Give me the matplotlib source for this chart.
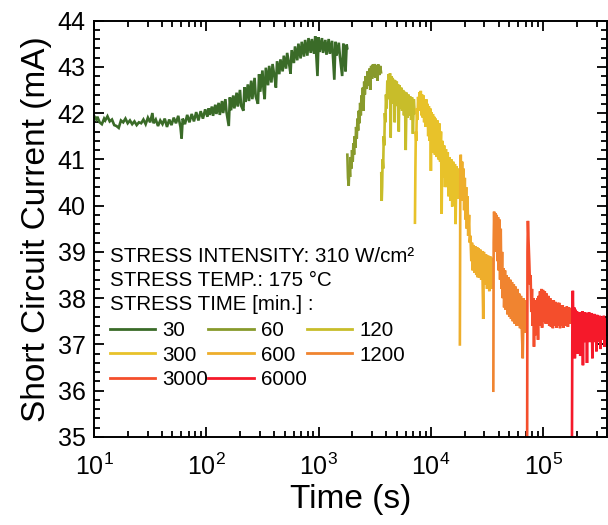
import numpy as np
import matplotlib
matplotlib.use("Agg")
import matplotlib.pyplot as plt
from matplotlib.lines import Line2D
from matplotlib.ticker import MultipleLocator, LogLocator, NullFormatter

plt.rcParams['font.family'] = ['Liberation Sans', 'DejaVu Sans']
plt.rcParams['mathtext.fontset'] = 'custom'
plt.rcParams['mathtext.rm'] = 'Liberation Sans'
plt.rcParams['mathtext.it'] = 'Liberation Sans:italic'
plt.rcParams['mathtext.bf'] = 'Liberation Sans:bold'

# ---------------- data (log10 of time in s, current in mA) ----------------
stress_minutes = ["30", "60", "120", "300", "600", "1200", "3000", "6000"]
colors = ['#3a6b28', '#889a2c', '#c8bd2a', '#e8c22a', '#eeae2c', '#f08430', '#f44e2c', '#f5192a']

lt_30 = [1.00, 1.02, 1.03, 1.05, 1.07, 1.09, 1.10, 1.12, 1.14, 1.16, 1.18, 1.20, 1.22, 1.24, 1.26, 1.28,
         1.30, 1.32, 1.34, 1.36, 1.38, 1.40, 1.42, 1.44, 1.46, 1.48, 1.50, 1.52, 1.53, 1.55, 1.57, 1.59,
         1.61, 1.63, 1.65, 1.67, 1.69, 1.71, 1.73, 1.75, 1.77, 1.78, 1.79, 1.81, 1.83, 1.85, 1.87, 1.89,
         1.91, 1.93, 1.95, 1.97, 1.99,
         2.01, 2.02, 2.03, 2.05, 2.06, 2.08, 2.09, 2.11, 2.12, 2.14, 2.15, 2.17, 2.18, 2.20, 2.21, 2.22,
         2.24, 2.25, 2.27, 2.28, 2.30, 2.31, 2.33, 2.34, 2.35, 2.37, 2.38, 2.40, 2.41, 2.43, 2.44, 2.46,
         2.47, 2.48, 2.50, 2.51, 2.52, 2.53, 2.55, 2.56, 2.58, 2.59, 2.61, 2.62, 2.63, 2.65, 2.66, 2.68,
         2.69, 2.71, 2.72, 2.74, 2.75, 2.76, 2.78, 2.79, 2.81, 2.82, 2.84, 2.85, 2.87, 2.88, 2.90, 2.91,
         2.93, 2.94, 2.96, 2.97, 2.99, 3.00, 3.01, 3.03, 3.04, 3.06, 3.07, 3.09, 3.10, 3.12, 3.14, 3.15,
         3.16, 3.18, 3.19, 3.21, 3.22, 3.23, 3.24, 3.25, 3.255]
i_30 = [41.94, 41.86, 41.92, 41.80, 41.76, 41.88, 41.84, 41.93, 41.82, 41.86, 41.74, 41.72, 41.68, 41.84, 41.80, 41.88,
        41.78, 41.84, 41.76, 41.82, 41.74, 41.80, 41.78, 41.86, 41.76, 41.90, 41.80, 42.00, 41.78, 41.86, 41.72, 41.84,
        41.76, 41.88, 41.70, 41.86, 41.74, 41.90, 41.78, 41.94, 41.70, 41.45, 41.88, 41.76, 41.96, 41.80, 41.98, 41.82,
        42.02, 41.84, 42.04, 41.88, 42.08,
        41.92, 42.10, 41.96, 42.14, 41.94, 42.18, 41.98, 42.22, 41.96, 42.26, 42.00, 42.30, 42.02, 41.72, 42.34, 42.06,
        42.38, 42.10, 42.44, 42.14, 42.50, 42.16, 42.05, 42.56, 42.24, 42.62, 42.26, 42.70, 42.30, 42.76, 42.36, 42.20,
        42.84, 42.46, 42.92, 42.50, 42.30, 42.98, 42.60, 43.02, 42.66, 43.06, 42.74, 42.55, 43.12, 42.84, 43.16, 42.90,
        43.24, 42.96, 43.30, 43.02, 42.85, 43.36, 43.08, 43.44, 43.14, 43.50, 43.18, 43.54, 43.22, 43.58, 43.24, 43.62,
        43.30, 43.60, 43.28, 43.66, 42.80, 43.64, 43.32, 43.62, 43.30, 43.58, 43.26, 43.60, 43.28, 43.56, 42.72, 43.54,
        43.24, 43.52, 43.22, 42.80, 43.50, 43.26, 42.90, 43.48, 43.40]

lt_60 = [3.256, 3.262, 3.268, 3.274, 3.280, 3.286, 3.292, 3.298, 3.304, 3.310, 3.316, 3.322, 3.328, 3.334,
         3.340, 3.346, 3.352, 3.358, 3.364, 3.370, 3.376, 3.382, 3.388, 3.394, 3.400, 3.406, 3.412, 3.420,
         3.428, 3.436, 3.444, 3.452, 3.460, 3.468, 3.476, 3.484, 3.492, 3.500, 3.508, 3.516, 3.524, 3.532,
         3.540, 3.548, 3.556]
i_60 = [41.10, 40.60, 40.43, 40.85, 40.62, 41.05, 40.80, 41.20, 40.95, 41.35, 41.10, 41.50, 41.25, 41.70,
        41.45, 41.88, 41.62, 42.05, 41.78, 42.22, 41.95, 42.38, 42.10, 42.55, 42.05, 42.68, 42.40, 42.80,
        42.52, 42.90, 42.60, 42.96, 42.50, 43.02, 42.74, 43.05, 42.78, 43.06, 42.76, 43.04, 42.70, 43.05,
        42.82, 43.02, 42.88]

lt_120 = [3.558, 3.562, 3.566, 3.570, 3.575, 3.580, 3.585, 3.590, 3.595, 3.600, 3.606, 3.612, 3.618, 3.624,
          3.630, 3.636, 3.642, 3.648, 3.654, 3.660, 3.666, 3.672, 3.678, 3.684, 3.690, 3.696, 3.702, 3.708,
          3.714, 3.720, 3.728, 3.736, 3.744, 3.752, 3.760, 3.768, 3.776, 3.784, 3.792, 3.800, 3.808, 3.816,
          3.824, 3.832, 3.840, 3.848, 3.856]
i_120 = [40.70, 40.10, 40.40, 41.00, 40.80, 41.50, 41.30, 42.00, 41.80, 42.40, 42.10, 42.70, 42.30, 42.84,
         42.40, 42.86, 41.47, 42.80, 42.35, 42.76, 42.20, 42.72, 41.80, 42.70, 42.25, 42.68, 42.15, 42.62,
         41.60, 42.60, 42.10, 42.55, 42.05, 42.50, 41.95, 42.46, 41.20, 42.44, 41.90, 42.40, 41.95, 42.36,
         41.85, 42.34, 41.55, 42.30, 42.00]

lt_300 = [3.858, 3.862, 3.866, 3.870, 3.875, 3.880, 3.886, 3.892, 3.898, 3.904, 3.910, 3.916, 3.922, 3.928,
          3.934, 3.940, 3.946, 3.952, 3.958, 3.964, 3.970, 3.976, 3.982, 3.988, 3.994, 4.000, 4.006, 4.012,
          4.018, 4.024, 4.030, 4.036, 4.042, 4.050, 4.058, 4.066, 4.074, 4.082, 4.090, 4.096, 4.102, 4.110,
          4.118, 4.126, 4.134, 4.142, 4.150, 4.158, 4.166, 4.174, 4.182, 4.190, 4.198, 4.206, 4.214, 4.220,
          4.228, 4.236, 4.244, 4.252]
i_300 = [39.63, 40.80, 41.60, 41.40, 42.10, 41.85, 42.35, 42.05, 42.45, 42.10, 42.48, 41.95, 42.40, 41.90,
         42.38, 41.80, 42.30, 41.70, 42.30, 41.72, 42.20, 41.50, 42.15, 41.40, 42.10, 40.75, 42.02, 41.20,
         41.98, 41.15, 41.92, 41.10, 41.88, 41.05, 41.84, 41.00, 41.78, 40.95, 41.60, 39.82, 41.40, 40.60,
         41.30, 40.40, 41.22, 40.40, 41.15, 40.20, 41.05, 40.10, 41.00, 39.98, 40.95, 40.10, 40.90, 39.60,
         40.85, 40.15, 40.80, 40.20]

lt_600 = [4.258, 4.262, 4.266, 4.272, 4.278, 4.284, 4.290, 4.296, 4.302, 4.308, 4.314, 4.320, 4.326, 4.332,
          4.340, 4.346, 4.352, 4.360, 4.366, 4.372, 4.380, 4.388, 4.396, 4.404, 4.412, 4.418, 4.424, 4.432,
          4.440, 4.448, 4.456, 4.466, 4.472, 4.480, 4.490, 4.500, 4.510, 4.520, 4.530, 4.540, 4.550]
i_600 = [37.00, 40.60, 41.10, 40.30, 40.95, 40.10, 40.80, 39.90, 40.60, 39.70, 40.40, 39.50, 40.20, 39.35,
         39.80, 39.20, 39.35, 38.80, 39.20, 38.60, 39.15, 38.55, 39.12, 38.50, 39.10, 38.45, 39.08, 38.45,
         39.05, 38.40, 39.02, 37.55, 39.00, 38.30, 38.95, 38.20, 38.92, 38.15, 38.90, 38.20, 38.85]

lt_1200 = [4.556, 4.559, 4.563, 4.568, 4.574, 4.580, 4.586, 4.592, 4.598, 4.604, 4.610, 4.616, 4.622, 4.628,
           4.634, 4.640, 4.646, 4.652, 4.660, 4.666, 4.674, 4.682, 4.690, 4.698, 4.706, 4.714, 4.722, 4.730,
           4.738, 4.746, 4.754, 4.762, 4.770, 4.778, 4.786, 4.794, 4.802, 4.810, 4.818, 4.826, 4.834, 4.842,
           4.850]
i_1200 = [36.00, 39.20, 39.87, 39.30, 39.84, 39.00, 39.80, 38.80, 39.75, 38.60, 39.70, 38.40, 39.50, 38.20,
          39.00, 38.00, 38.65, 37.80, 38.60, 37.75, 38.50, 37.65, 38.45, 37.60, 38.40, 37.55, 38.35, 37.50,
          38.30, 37.45, 38.25, 37.40, 38.20, 37.40, 38.10, 37.35, 38.05, 37.30, 36.70, 38.00, 37.25, 37.95,
          37.30]

lt_3000 = [4.857, 4.860, 4.864, 4.870, 4.876, 4.882, 4.888, 4.894, 4.900, 4.906, 4.912, 4.918, 4.924, 4.930,
           4.936, 4.942, 4.948, 4.954, 4.960, 4.966, 4.972, 4.978, 4.984, 4.990, 4.998, 5.006, 5.014, 5.022,
           5.030, 5.038, 5.046, 5.054, 5.062, 5.070, 5.078, 5.086, 5.094, 5.102, 5.110, 5.118, 5.126, 5.134,
           5.142, 5.150, 5.158, 5.166, 5.174, 5.182, 5.190, 5.200, 5.210, 5.220, 5.230, 5.240, 5.250]
i_3000 = [34.80, 39.00, 39.67, 39.20, 38.80, 38.30, 38.50, 37.70, 38.20, 37.40, 38.00, 36.95, 37.95, 37.20,
          37.90, 37.30, 38.00, 37.10, 38.05, 37.40, 38.15, 37.40, 38.20, 37.36, 38.18, 37.50, 38.15, 37.45,
          38.10, 37.45, 38.05, 37.40, 38.00, 37.38, 37.95, 37.35, 37.95, 37.40, 37.92, 37.36, 37.90, 37.40,
          37.90, 37.35, 37.85, 37.40, 37.85, 37.36, 37.80, 37.40, 37.82, 37.38, 37.80, 37.45, 37.75]

lt_6000 = [5.256, 5.260, 5.264, 5.270, 5.276, 5.282, 5.288, 5.294, 5.300, 5.306, 5.312, 5.318, 5.324, 5.330,
           5.336, 5.342, 5.348, 5.354, 5.360, 5.366, 5.372, 5.378, 5.384, 5.390, 5.396, 5.402, 5.408, 5.414,
           5.420, 5.426, 5.432, 5.438, 5.444, 5.450, 5.456, 5.462, 5.468, 5.474, 5.480, 5.486, 5.492, 5.498,
           5.504, 5.510, 5.516, 5.522, 5.528, 5.534, 5.540, 5.546, 5.552, 5.556]
i_6000 = [34.80, 37.60, 38.16, 37.20, 37.80, 36.70, 37.75, 37.10, 37.72, 36.80, 37.70, 37.10, 37.68, 36.75,
          37.70, 37.00, 37.72, 36.55, 37.66, 37.05, 37.70, 37.10, 37.66, 36.60, 37.68, 37.15, 37.70, 37.05,
          37.64, 37.15, 37.68, 36.70, 37.62, 37.10, 37.66, 37.05, 37.62, 36.85, 37.64, 37.15, 37.60, 37.05,
          37.62, 36.90, 37.58, 37.10, 37.60, 37.15, 37.62, 36.95, 37.56, 37.25]

segments_lt = [lt_30, lt_60, lt_120, lt_300, lt_600, lt_1200, lt_3000, lt_6000]
segments_i = [i_30, i_60, i_120, i_300, i_600, i_1200, i_3000, i_6000]

header_lines = ["STRESS INTENSITY: 310 W/cm\u00b2", "STRESS TEMP.: 175 \u00b0C", "STRESS TIME [min.] :"]

# ---------------- figure ----------------
W, H = 608, 525
fig = plt.figure(figsize=(W / 100, H / 100), dpi=100)
ax = fig.add_axes([94 / W, 1 - 437 / H, (607 - 94) / W, (437 - 20.5) / H])

for lt, cur, col in zip(segments_lt, segments_i, colors):
    ax.plot(10 ** np.array(lt), cur, color=col, lw=1.9, solid_joinstyle='miter')

ax.set_xscale('log')
ax.set_xlim(10, 3.7e5)
ax.set_ylim(35, 44)
ax.yaxis.set_major_locator(MultipleLocator(1))
ax.yaxis.set_minor_locator(MultipleLocator(0.2))
ax.xaxis.set_major_locator(LogLocator(base=10, numticks=20))
ax.xaxis.set_minor_locator(LogLocator(base=10, subs=np.arange(2, 10), numticks=20))
ax.xaxis.set_minor_formatter(NullFormatter())

ax.tick_params(which='both', direction='in', top=True, right=True, labelsize=18, width=1.3)
ax.tick_params(which='major', length=7)
ax.tick_params(which='minor', length=4)
ax.tick_params(axis='y', which='major', pad=6)
ax.tick_params(axis='x', which='major', pad=12)
for s in ax.spines.values():
    s.set_linewidth(1.4)

ax.set_xlabel("Time (s)", fontsize=24, labelpad=3)
ax.set_ylabel("Short Circuit Current (mA)", fontsize=24, labelpad=4)

# header texts
for k, txt in enumerate(header_lines):
    fig.text(110 / W, 1 - (256 + 24.5 * k) / H, txt, fontsize=14.8, va='center', ha='left')

handles = [Line2D([], [], color=c, lw=2) for c in colors]
order = [0, 3, 6, 1, 4, 7, 2, 5]
leg = ax.legend([handles[i] for i in order], [stress_minutes[i] for i in order], ncol=3,
                loc='upper left', bbox_to_anchor=(110 / W, 1 - 321 / H), bbox_transform=fig.transFigure,
                frameon=False, fontsize=14.8, handlelength=2.2, handletextpad=0.35,
                columnspacing=0.0, labelspacing=0.27, borderpad=0, borderaxespad=0)

fig.savefig("out.png", dpi=100)
